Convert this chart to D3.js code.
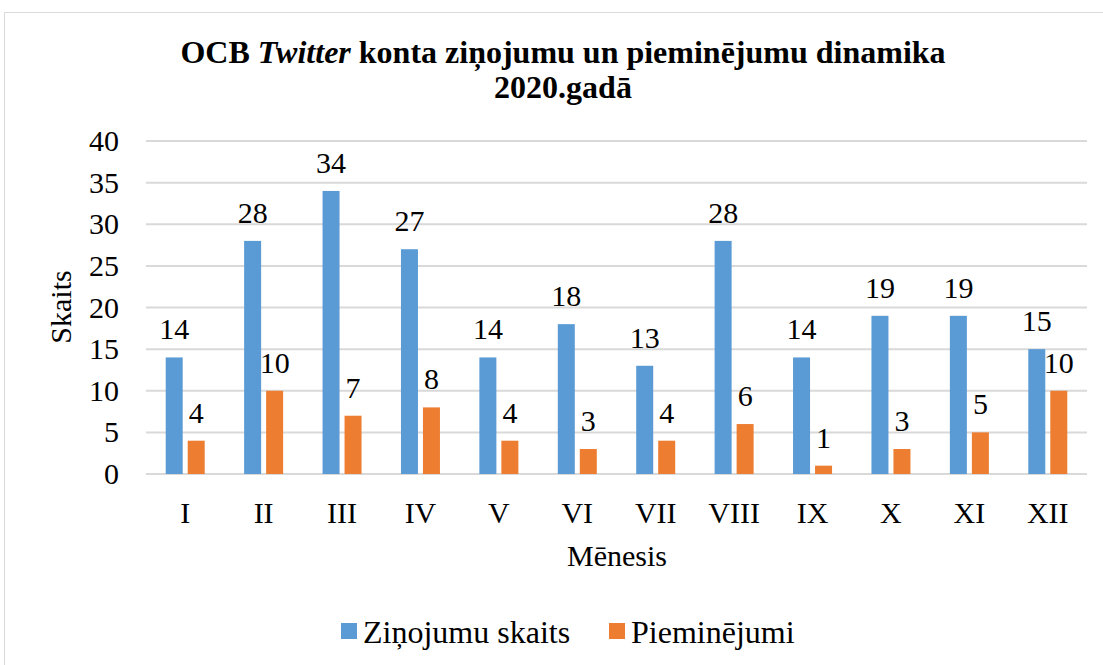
<!DOCTYPE html>
<html lang="lv">
<head>
<meta charset="utf-8">
<style>
  body { margin: 0; background: #fff; }
  svg text { font-family: "Liberation Serif", "Times New Roman", serif; fill: #000; }
</style>
</head>
<body>
<svg id="chart" width="1103" height="665"></svg>
<script src="https://d3js.org/d3.v7.min.js"></script>
<script>
var months = ["I", "II", "III", "IV", "V", "VI", "VII", "VIII", "IX", "X", "XI", "XII"];
var zinojumi = [14, 28, 34, 27, 14, 18, 13, 28, 14, 19, 19, 15];
var pieminejumi = [4, 10, 7, 8, 4, 3, 4, 6, 1, 3, 5, 10];
var seriesNames = ["Ziņojumu skaits", "Pieminējumi"];
var colors = ["#5b9bd5", "#ed7d31"];
var yTicks = [0, 5, 10, 15, 20, 25, 30, 35, 40];

var svg = d3.select("#chart");

// outer chart frame
svg.append("rect")
    .attr("x", 4.5).attr("y", 12.5)
    .attr("width", 1110).attr("height", 670)
    .attr("fill", "#fff").attr("stroke", "#d9d9d9");

var plotLeft = 146, plotRight = 1087, plotTop = 141, plotBottom = 474;

var x = d3.scaleBand().domain(months).range([plotLeft, plotRight]);
var y = d3.scaleLinear().domain([0, 40]).range([plotBottom, plotTop]);

// gridlines
svg.append("g").selectAll("line").data(yTicks).enter().append("line")
    .attr("x1", plotLeft).attr("x2", plotRight)
    .attr("y1", function(d) { return y(d); })
    .attr("y2", function(d) { return y(d); })
    .attr("stroke", "#d9d9d9").attr("stroke-width", 2);

// y tick labels
svg.append("g").selectAll("text").data(yTicks).enter().append("text")
    .attr("x", 119)
    .attr("y", function(d) { return y(d) + 10; })
    .attr("text-anchor", "end")
    .style("font-size", "30px")
    .text(function(d) { return d; });

// x tick labels
svg.append("g").selectAll("text").data(months).enter().append("text")
    .attr("x", function(d) { return x(d) + x.bandwidth() / 2; })
    .attr("y", 523)
    .attr("text-anchor", "middle")
    .style("font-size", "30px")
    .text(function(d) { return d; });

var barW = 17, gap = 5;
var data = [zinojumi, pieminejumi];

data.forEach(function(vals, s) {
  var off = s === 0 ? -(barW + gap / 2) : gap / 2;
  var g = svg.append("g");
  g.selectAll("rect").data(vals).enter().append("rect")
      .attr("x", function(d, i) { return x(months[i]) + x.bandwidth() / 2 + off; })
      .attr("y", function(d) { return y(d); })
      .attr("width", barW)
      .attr("height", function(d) { return plotBottom - y(d); })
      .attr("fill", colors[s]);
  g.selectAll("text").data(vals).enter().append("text")
      .attr("x", function(d, i) { return x(months[i]) + x.bandwidth() / 2 + off + barW / 2; })
      .attr("y", function(d) { return y(d) - 18; })
      .attr("text-anchor", "middle")
      .style("font-size", "30px")
      .text(function(d) { return d; });
});

// title
var title = svg.append("text")
    .attr("x", 563).attr("y", 63)
    .attr("text-anchor", "middle")
    .style("font-size", "32px").style("font-weight", "bold");
title.append("tspan").text("OCB ");
title.append("tspan").style("font-style", "italic").text("Twitter");
title.append("tspan").text(" konta ziņojumu un pieminējumu dinamika");
svg.append("text")
    .attr("x", 563).attr("y", 98)
    .attr("text-anchor", "middle")
    .style("font-size", "32px").style("font-weight", "bold")
    .text("2020.gadā");

// axis titles
svg.append("text")
    .attr("transform", "translate(71,307) rotate(-90)")
    .attr("text-anchor", "middle")
    .style("font-size", "30px")
    .text("Skaits");
svg.append("text")
    .attr("x", 617).attr("y", 566)
    .attr("text-anchor", "middle")
    .style("font-size", "30px")
    .text("Mēnesis");

// legend
var legend = svg.append("g");
var lx = [341, 609];
seriesNames.forEach(function(n, i) {
  legend.append("rect")
      .attr("x", lx[i]).attr("y", 623)
      .attr("width", 16).attr("height", 16)
      .attr("fill", colors[i]);
  legend.append("text")
      .attr("x", lx[i] + 22).attr("y", 643)
      .style("font-size", "32px")
      .text(n);
});
</script>
</body>
</html>
